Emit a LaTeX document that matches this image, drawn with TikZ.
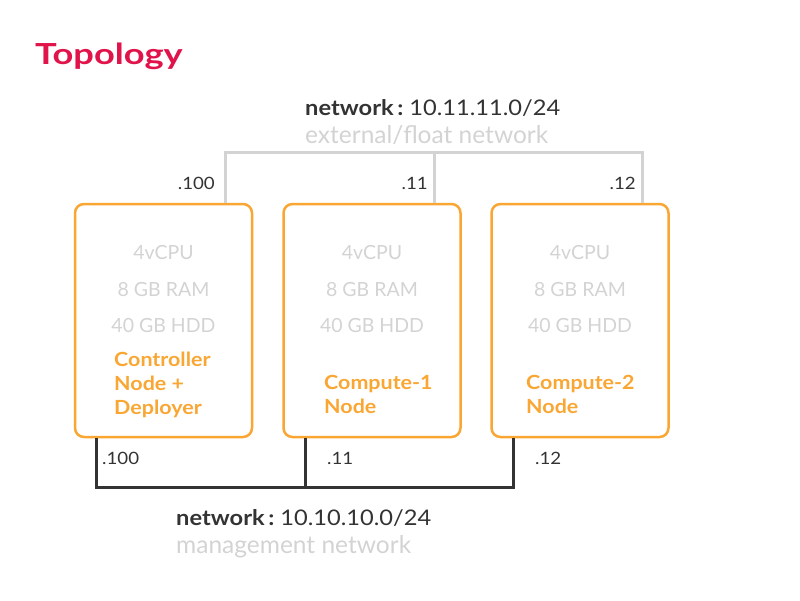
\documentclass[tikz,border=0pt]{standalone}
\usepackage{fontspec}
\setmainfont{Lato}
\newfontfamily\widefont{Lato}[FakeStretch=1.1]
\newfontfamily\titlefont{Lato}[FakeStretch=1.25]
\definecolor{topored}{HTML}{E0134A}
\definecolor{vmorange}{HTML}{F9A633}
\definecolor{specgray}{HTML}{D3D3D3}
\definecolor{netdark}{HTML}{333333}
\tikzset{
    vmbox/.style={draw=vmorange,line width=2.5pt,rounded corners=9pt,minimum width=177pt,minimum height=233pt,inner sep=0pt},
    spec/.style={text=specgray,font=\fontsize{19.5}{23}\selectfont,anchor=base,inner sep=0pt},
    role/.style={text=vmorange,font=\widefont\fontsize{19.5}{24}\selectfont\bfseries,anchor=base west,inner sep=0pt,align=left},
    netname/.style={text=netdark,font=\widefont\fontsize{21.5}{26}\selectfont,anchor=base west,inner sep=0pt},
    netsub/.style={text=specgray,font=\fontsize{24.5}{28}\selectfont,anchor=base west,inner sep=0pt},
    ipaddr/.style={text=netdark,font=\widefont\fontsize{17}{20}\selectfont,inner sep=0pt},
    extnet/.style={draw=specgray,line width=3pt},
    mgmtnet/.style={draw=netdark,line width=3pt}
}
\begin{document}
\begin{tikzpicture}[x=1pt,y=-1pt]

    \def\extoff{62}%Desfase red externa
    \def\mgmtoff{-67}%Desfase red de gestion

    \useasboundingbox (0,0) rectangle (800,600);

    \node[text=topored,font=\titlefont\fontsize{29}{32}\selectfont\bfseries,anchor=base west,inner sep=0pt] (title) at (35,64) {Topology};

    %Maquinas
    \foreach \n/\x in {ctrl/163.5,cmpa/372,cmpb/580}{
        \node[vmbox] (\n) at (\x,320.5) {};
        \node[spec] (\n-cpu) at (\x,259) {4vCPU};
        \node[spec] (\n-ram) at (\x,296) {8 GB RAM};
        \node[spec] (\n-hdd) at (\x,332) {40 GB HDD};
    }
    \node[role] (ctrl-role) at (114,414) {Controller\\Node +\\Deployer};
    \node[role] (cmpa-role) at (324,413) {Compute-1\\Node};
    \node[role] (cmpb-role) at (526,413) {Compute-2\\Node};

    %Red externa
    \coordinate (ext-ctrl) at ([xshift=\extoff pt]ctrl.north);
    \coordinate (ext-cmpa) at ([xshift=\extoff pt]cmpa.north);
    \coordinate (ext-cmpb) at ([xshift=\extoff pt]cmpb.north);
    \draw[extnet] (ext-ctrl) -- ++(0,-50) -| (ext-cmpb);
    \draw[extnet] (ext-cmpa) -- ++(0,-50);
    \node[netname] (ext-name) at (305,115) {\textbf{network\,:}\ 10.11.11.0/24};
    \node[netsub] (ext-sub) at (305,143) {external/float network};
    \node[ipaddr,anchor=base east] (ext-ip-ctrl) at (215,189) {.100};
    \node[ipaddr,anchor=base east] (ext-ip-cmpa) at (428,189) {.11};
    \node[ipaddr,anchor=base east] (ext-ip-cmpb) at (636,189) {.12};

    %Red de gestion
    \coordinate (mgmt-ctrl) at ([xshift=\mgmtoff pt]ctrl.south);
    \coordinate (mgmt-cmpa) at ([xshift=\mgmtoff pt]cmpa.south);
    \coordinate (mgmt-cmpb) at ([xshift=\mgmtoff pt]cmpb.south);
    \draw[mgmtnet] (mgmt-ctrl) -- ++(0,49) -| (mgmt-cmpb);
    \draw[mgmtnet] (mgmt-cmpa) -- ++(0,49);
    \node[netname] (mgmt-name) at (176,525) {\textbf{network\,:}\ 10.10.10.0/24};
    \node[netsub] (mgmt-sub) at (176,553) {management network};
    \node[ipaddr,anchor=base west] (mgmt-ip-ctrl) at (102,464) {.100};
    \node[ipaddr,anchor=base west] (mgmt-ip-cmpa) at (327,464) {.11};
    \node[ipaddr,anchor=base west] (mgmt-ip-cmpb) at (535,464) {.12};

\end{tikzpicture}
\end{document}
